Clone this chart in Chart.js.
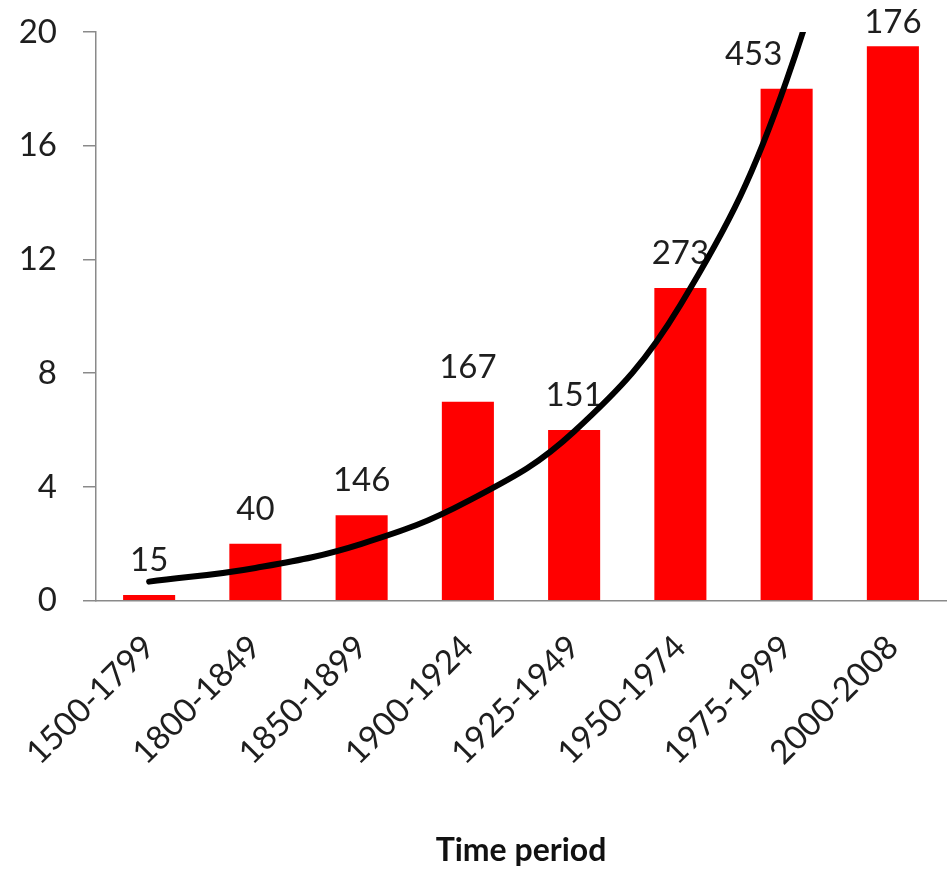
<!DOCTYPE html>
<html>
<head>
<meta charset="utf-8">
<script src="https://cdn.jsdelivr.net/npm/chart.js@4.4.0/dist/chart.umd.min.js"></script>
<style>
  html, body { margin: 0; padding: 0; background: #fff; }
  #wrap { width: 949px; height: 870px; }
</style>
</head>
<body>
<div id="wrap"><canvas id="myChart" width="949" height="870"></canvas></div>
<script>
  const periods = [
    '1500-1799',
    '1800-1849',
    '1850-1899',
    '1900-1924',
    '1925-1949',
    '1950-1974',
    '1975-1999',
    '2000-2008',
  ];

  // bar heights
  const barValues = [0.2, 2, 3, 7, 6, 11, 18, 19.5];

  // numbers printed above the bars
  const counts = [15, 40, 146, 167, 151, 273, 453, 176];

  // black trend curve, read at each category centre
  const trendValues = [0.67, 1.15, 2.0, 3.5, 5.95, 10.4, 18.3, 31.8];

  const yTicks = [0, 4, 8, 12, 16, 20];

  // the 453 label sits left of its bar in the original
  const labelNudge = [0, 0, 0, 0, 0, 0, -33, 0];

  const FONT = 'Lato, "Open Sans", sans-serif';
  const TEXT = '#1e1e1e';
  const AXIS = '#8a8a8a';

  const countLabels = {
    id: 'countLabels',
    afterDatasetDraw(chart, args) {
      if (args.index !== 0) return;
      const ctx = chart.ctx;
      ctx.save();
      ctx.font = '33px ' + FONT;
      ctx.fillStyle = TEXT;
      ctx.textAlign = 'center';
      ctx.textBaseline = 'alphabetic';
      args.meta.data.forEach((bar, i) => {
        const y = Math.max(bar.y - 24, 33);
        ctx.fillText(String(counts[i]), bar.x + labelNudge[i], y);
      });
      ctx.restore();
    }
  };

  const data = {
    labels: periods,
    datasets: [{
      type: 'bar',
      data: barValues,
      backgroundColor: '#ff0000',
      borderWidth: 0,
      barPercentage: 0.49,
      categoryPercentage: 1,
      order: 1
    }, {
      type: 'line',
      data: trendValues,
      borderColor: '#000',
      borderWidth: 6,
      borderCapStyle: 'round',
      pointRadius: 0,
      tension: 0.4,
      fill: false,
      order: 0
    }]
  };

  const config = {
    data: data,
    plugins: [countLabels],
    options: {
      responsive: false,
      animation: false,
      events: [],
      layout: { padding: { top: 0, right: 3, left: 0, bottom: 0 } },
      plugins: {
        legend: { display: false },
        tooltip: { enabled: false }
      },
      scales: {
        x: {
          grid: { display: false },
          border: { display: true, color: AXIS, width: 1.5 },
          ticks: {
            color: TEXT,
            font: { family: FONT, size: 33 },
            minRotation: 45,
            maxRotation: 45,
            padding: 19
          },
          title: {
            display: true,
            text: 'Time period',
            color: '#111',
            font: { family: FONT, size: 32, weight: 'bold' },
            padding: { top: 40, bottom: 0 }
          }
        },
        y: {
          min: 0,
          max: 20,
          afterBuildTicks: (scale) => {
            scale.ticks = yTicks.map(v => ({ value: v }));
          },
          afterFit: (scale) => {
            scale.width = 96;
            scale.paddingTop = 32;
          },
          grid: {
            drawOnChartArea: false,
            drawTicks: true,
            tickLength: 13,
            color: AXIS,
            lineWidth: 1.5
          },
          border: { display: true, color: AXIS, width: 1.5 },
          ticks: {
            color: TEXT,
            font: { family: FONT, size: 33 },
            padding: 26
          }
        }
      }
    }
  };

  const myChart = new Chart(
    document.getElementById('myChart'),
    config
  );
</script>
</body>
</html>
